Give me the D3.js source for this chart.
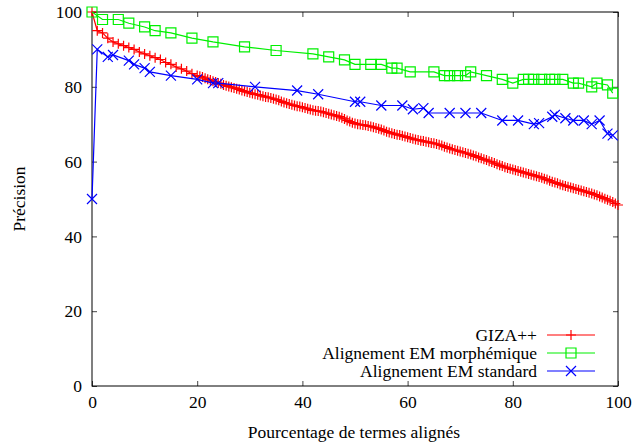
<!DOCTYPE html>
<html>
<head>
<meta charset="utf-8">
<script src="https://cdn.jsdelivr.net/npm/d3@7"></script>
<style>
  body { margin: 0; background: #fff; }
</style>
</head>
<body>
<svg id="chart" width="634" height="445"></svg>
<script>
// tick labels
var xTicks = [0, 20, 40, 60, 80, 100];
var yTicks = [0, 20, 40, 60, 80, 100];

// GIZA++ (red +)
var gizaX = [0,1,2,3,4,5,6,7,8,9,10,11,12,13,14,15,16,17,18,19,20,
  20.5,21,21.5,22,22.5,23,23.5,24,24.5,25,25.5,26,26.5,27,27.5,28,28.5,29,29.5,30,
  30.5,31,31.5,32,32.5,33,33.5,34,34.5,35,35.5,36,36.5,37,37.5,38,38.5,39,39.5,40,
  40.5,41,41.5,42,42.5,43,43.5,44,44.5,45,45.5,46,46.5,47,47.5,48,48.5,49,49.5,50,
  50.5,51,51.5,52,52.5,53,53.5,54,54.5,55,55.5,56,56.5,57,57.5,58,58.5,59,59.5,60,
  60.5,61,61.5,62,62.5,63,63.5,64,64.5,65,65.5,66,66.5,67,67.5,68,68.5,69,69.5,70,
  70.5,71,71.5,72,72.5,73,73.5,74,74.5,75,75.5,76,76.5,77,77.5,78,78.5,79,79.5,80,
  80.5,81,81.5,82,82.5,83,83.5,84,84.5,85,85.5,86,86.5,87,87.5,88,88.5,89,89.5,90,
  90.5,91,91.5,92,92.5,93,93.5,94,94.5,95,95.5,96,96.5,97,97.5,98,98.5,99,99.5,100];
var gizaY = [100,95,94.4,93,92,91.5,91,90.5,90,89.3,88.8,88.3,87.8,87.3,86.5,86,85.3,84.8,84.2,83.5,83,
  82.8,82.6,82.3,82.0,81.8,81.5,81.3,81.0,80.8,80.5,80.3,80.1,79.9,79.7,79.5,79.3,79.0,78.8,78.6,78.4,
  78.2,78.0,77.9,77.7,77.5,77.3,77.2,77.0,76.8,76.6,76.4,76.1,75.8,75.6,75.4,75.2,75.0,74.8,74.7,74.5,
  74.3,74.1,73.9,73.7,73.6,73.5,73.4,73.2,73.0,72.8,72.6,72.4,72.2,72.0,71.7,71.4,71.0,70.7,70.4,70.2,
  70.0,69.9,69.8,69.7,69.5,69.4,69.2,69.0,68.8,68.6,68.3,68.0,67.8,67.6,67.4,67.2,67.1,66.9,66.7,66.5,
  66.3,66.1,65.9,65.8,65.6,65.5,65.3,65.2,65.0,64.9,64.7,64.5,64.3,64.0,63.8,63.5,63.3,63.1,62.9,62.7,
  62.5,62.3,62.1,61.9,61.6,61.4,61.1,60.9,60.6,60.4,60.1,59.9,59.6,59.3,59.0,58.8,58.5,58.3,58.1,57.9,
  57.7,57.5,57.3,57.1,56.9,56.7,56.5,56.3,56.1,55.9,55.7,55.4,55.2,54.9,54.6,54.4,54.2,53.9,53.7,53.5,
  53.3,53.1,52.9,52.7,52.5,52.3,52.1,51.9,51.7,51.5,51.2,51.0,50.7,50.4,50.1,49.8,49.5,49.2,48.8,48.4];

// Alignement EM morphémique (green squares)
var morphX = [0,2,5,7,10,12,15,19,23,29,35,42,45,48,50,53,55,57,58,60.5,65,67,68,69.5,71,72,75,78,80,82,83,84,85.5,87,88,89.5,91.5,92.5,95,96,98,99];
var morphY = [100,98,98,97,96,95,94.4,93,92,90.7,89.7,88.8,88,87.2,86,86,86,85,85,84,84,83,83,83,83,84,83,82,81,82,82,82,82,82,82,82,81,81,80,81,80.5,78.3];

// Alignement EM standard (blue x)
var stdX = [0,1,3,4,7,8,10,11,15,20,23,24,31,39,43,50,51,55,59,61,63,64,68,71,74,78,81,84,85,87.5,88,90,91.5,93.5,95,96.5,98,99];
var stdY = [50,90,88,88.5,87,86,85,84,83,82,81,81,80,79,78,76,76,75,75,74,74.3,73,73,73,73,71,71,70,70.3,72,72.5,71.6,71,71,70,71,67.5,67];

var seriesNames = ["GIZA++", "Alignement EM morphémique", "Alignement EM standard"];
var seriesColors = ["#ff0000", "#00f000", "#0000ff"];
var serif = "'Liberation Serif', serif";
var fs = "17.5px";

const svg = d3.select("#chart"),
      margin = {top: 12, right: 16, bottom: 59, left: 92},
      width = 634 - margin.left - margin.right,
      height = 445 - margin.top - margin.bottom,
      x = d3.scaleLinear().domain([0, 100]).range([0, width]),
      y = d3.scaleLinear().domain([0, 100]).range([height, 0]),
      g = svg.append("g").attr("transform", `translate(${margin.left},${margin.top})`);

// axes with inward ticks, mirrored like gnuplot
g.append("g").attr("transform", `translate(0,${height})`)
  .call(d3.axisBottom(x).tickValues(xTicks).tickSizeInner(-5).tickSizeOuter(0).tickPadding(10))
  .call(a => a.select(".domain").remove());
g.append("g")
  .call(d3.axisLeft(y).tickValues(yTicks).tickSizeInner(-5).tickSizeOuter(0).tickPadding(10))
  .call(a => a.select(".domain").remove());
g.append("g")
  .call(d3.axisTop(x).tickValues(xTicks).tickSizeInner(-5).tickSizeOuter(0).tickFormat(""))
  .call(a => a.select(".domain").remove());
g.append("g").attr("transform", `translate(${width},0)`)
  .call(d3.axisRight(y).tickValues(yTicks).tickSizeInner(-5).tickSizeOuter(0).tickFormat(""))
  .call(a => a.select(".domain").remove());
g.selectAll("g").attr("font-family", null).attr("font-size", null);
g.selectAll(".tick line").attr("stroke", "#444");
g.selectAll(".tick text").style("font-family", serif).style("font-size", fs).attr("fill", "#000");

g.append("rect").attr("width", width).attr("height", height)
  .attr("fill", "none").attr("stroke", "#000").attr("stroke-width", 1);

// marker shapes
function plus(s) { return `M${-s},0H${s}M0,${-s}V${s}`; }
function square(s) { return `M${-s},${-s}H${s}V${s}H${-s}Z`; }
function cross(s) { return `M${-s},${-s}L${s},${s}M${-s},${s}L${s},${-s}`; }
var markers = [p => plus(5), p => square(5), p => cross(5)];

var allSeries = [
  gizaX.map((v, i) => ({x: v, y: gizaY[i]})),
  morphX.map((v, i) => ({x: v, y: morphY[i]})),
  stdX.map((v, i) => ({x: v, y: stdY[i]}))
];

const line = d3.line().x(d => x(d.x)).y(d => y(d.y));

allSeries.forEach(function(data, k) {
  g.append("path").datum(data)
    .attr("fill", "none").attr("stroke", seriesColors[k]).attr("stroke-width", 1.2)
    .attr("d", line);
  g.selectAll(".m" + k).data(data).enter().append("path")
    .attr("class", "m" + k)
    .attr("transform", d => `translate(${x(d.x)},${y(d.y)})`)
    .attr("d", markers[k])
    .attr("fill", "none").attr("stroke", seriesColors[k]).attr("stroke-width", 1.2);
});

// legend
var legend = svg.append("g");
seriesNames.forEach(function(name, k) {
  var ly = 335 + k * 18;
  legend.append("text").attr("x", 537).attr("y", ly + 6).attr("text-anchor", "end")
    .style("font-family", serif).style("font-size", fs).text(name);
  legend.append("line").attr("x1", 547).attr("x2", 595).attr("y1", ly).attr("y2", ly)
    .attr("stroke", seriesColors[k]).attr("stroke-width", 1.2);
  legend.append("path").attr("transform", `translate(571,${ly})`).attr("d", markers[k])
    .attr("fill", "none").attr("stroke", seriesColors[k]).attr("stroke-width", 1.2);
});

// axis titles
svg.append("text").attr("x", 354).attr("y", 438).attr("text-anchor", "middle")
  .style("font-family", serif).style("font-size", fs)
  .text("Pourcentage de termes alignés");
svg.append("text").attr("transform", "rotate(-90)")
  .attr("x", -199).attr("y", 25).attr("text-anchor", "middle")
  .style("font-family", serif).style("font-size", fs)
  .text("Précision");
</script>
</body>
</html>
